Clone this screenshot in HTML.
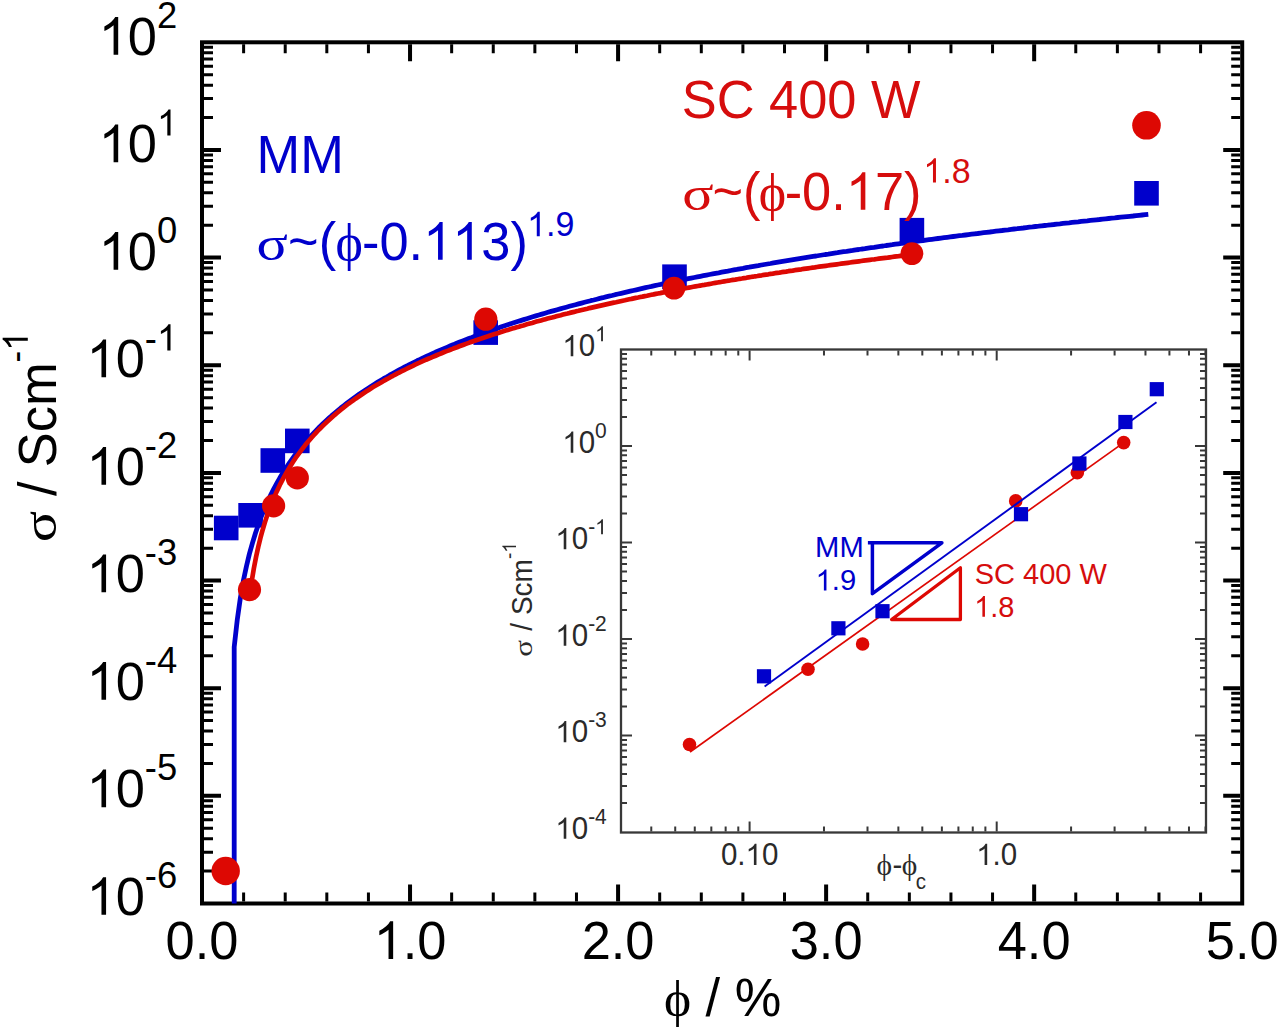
<!DOCTYPE html><html><head><meta charset="utf-8"><style>html,body{margin:0;padding:0;background:#fff;overflow:hidden}svg{display:block}</style></head><body><svg width="1280" height="1031" viewBox="0 0 1280 1031"><rect width="1280" height="1031" fill="#fff"/>
<path d="M204.0 871.09h9M1240.20 871.09h-9M204.0 852.14h9M1240.20 852.14h-9M204.0 838.69h9M1240.20 838.69h-9M204.0 828.26h9M1240.20 828.26h-9M204.0 819.73h9M1240.20 819.73h-9M204.0 812.53h9M1240.20 812.53h-9M204.0 806.28h9M1240.20 806.28h-9M204.0 800.78h9M1240.20 800.78h-9M204.0 763.44h9M1240.20 763.44h-9M204.0 744.49h9M1240.20 744.49h-9M204.0 731.04h9M1240.20 731.04h-9M204.0 720.61h9M1240.20 720.61h-9M204.0 712.08h9M1240.20 712.08h-9M204.0 704.88h9M1240.20 704.88h-9M204.0 698.63h9M1240.20 698.63h-9M204.0 693.13h9M1240.20 693.13h-9M204.0 655.79h9M1240.20 655.79h-9M204.0 636.84h9M1240.20 636.84h-9M204.0 623.39h9M1240.20 623.39h-9M204.0 612.96h9M1240.20 612.96h-9M204.0 604.43h9M1240.20 604.43h-9M204.0 597.23h9M1240.20 597.23h-9M204.0 590.98h9M1240.20 590.98h-9M204.0 585.48h9M1240.20 585.48h-9M204.0 548.14h9M1240.20 548.14h-9M204.0 529.19h9M1240.20 529.19h-9M204.0 515.74h9M1240.20 515.74h-9M204.0 505.31h9M1240.20 505.31h-9M204.0 496.78h9M1240.20 496.78h-9M204.0 489.58h9M1240.20 489.58h-9M204.0 483.33h9M1240.20 483.33h-9M204.0 477.83h9M1240.20 477.83h-9M204.0 440.49h9M1240.20 440.49h-9M204.0 421.54h9M1240.20 421.54h-9M204.0 408.09h9M1240.20 408.09h-9M204.0 397.66h9M1240.20 397.66h-9M204.0 389.13h9M1240.20 389.13h-9M204.0 381.93h9M1240.20 381.93h-9M204.0 375.68h9M1240.20 375.68h-9M204.0 370.18h9M1240.20 370.18h-9M204.0 332.84h9M1240.20 332.84h-9M204.0 313.89h9M1240.20 313.89h-9M204.0 300.44h9M1240.20 300.44h-9M204.0 290.01h9M1240.20 290.01h-9M204.0 281.48h9M1240.20 281.48h-9M204.0 274.28h9M1240.20 274.28h-9M204.0 268.03h9M1240.20 268.03h-9M204.0 262.53h9M1240.20 262.53h-9M204.0 225.19h9M1240.20 225.19h-9M204.0 206.24h9M1240.20 206.24h-9M204.0 192.79h9M1240.20 192.79h-9M204.0 182.36h9M1240.20 182.36h-9M204.0 173.83h9M1240.20 173.83h-9M204.0 166.63h9M1240.20 166.63h-9M204.0 160.38h9M1240.20 160.38h-9M204.0 154.88h9M1240.20 154.88h-9M204.0 117.54h9M1240.20 117.54h-9M204.0 98.59h9M1240.20 98.59h-9M204.0 85.14h9M1240.20 85.14h-9M204.0 74.71h9M1240.20 74.71h-9M204.0 66.18h9M1240.20 66.18h-9M204.0 58.98h9M1240.20 58.98h-9M204.0 52.73h9M1240.20 52.73h-9M204.0 47.23h9M1240.20 47.23h-9M243.61 901.50v-9M243.61 44.30v9M285.22 901.50v-9M285.22 44.30v9M326.82 901.50v-9M326.82 44.30v9M368.43 901.50v-9M368.43 44.30v9M451.65 901.50v-9M451.65 44.30v9M493.26 901.50v-9M493.26 44.30v9M534.86 901.50v-9M534.86 44.30v9M576.47 901.50v-9M576.47 44.30v9M659.69 901.50v-9M659.69 44.30v9M701.30 901.50v-9M701.30 44.30v9M742.90 901.50v-9M742.90 44.30v9M784.51 901.50v-9M784.51 44.30v9M867.73 901.50v-9M867.73 44.30v9M909.34 901.50v-9M909.34 44.30v9M950.94 901.50v-9M950.94 44.30v9M992.55 901.50v-9M992.55 44.30v9M1075.77 901.50v-9M1075.77 44.30v9M1117.38 901.50v-9M1117.38 44.30v9M1158.98 901.50v-9M1158.98 44.30v9M1200.59 901.50v-9M1200.59 44.30v9" stroke="#000" stroke-width="3" fill="none"/>
<path d="M204.0 795.85h17M1240.20 795.85h-17M204.0 688.20h17M1240.20 688.20h-17M204.0 580.55h17M1240.20 580.55h-17M204.0 472.90h17M1240.20 472.90h-17M204.0 365.25h17M1240.20 365.25h-17M204.0 257.60h17M1240.20 257.60h-17M204.0 149.95h17M1240.20 149.95h-17M410.04 901.50v-17M410.04 44.30v17M618.08 901.50v-17M618.08 44.30v17M826.12 901.50v-17M826.12 44.30v17M1034.16 901.50v-17M1034.16 44.30v17" stroke="#000" stroke-width="4" fill="none"/>
<rect x="202.0" y="42.3" width="1040.20" height="861.20" fill="none" stroke="#000" stroke-width="4"/>
<text transform="translate(144.83 887.9) scale(1 1.04)" font-family="'Liberation Sans', sans-serif" font-size="36.4" fill="#000" style="font-kerning:none" xml:space="preserve">-6</text>
<text transform="translate(86.55 914.8) scale(1 1.04)" font-family="'Liberation Sans', sans-serif" font-size="52.4" fill="#000" style="font-kerning:none" xml:space="preserve"> 0</text>
<path d="M763 0H583V1147Q518 1085 412.5 1023Q307 961 223 930V1104Q374 1175 487 1276Q600 1377 647 1472H763Z" fill="#000" transform="translate(86.55 914.8) scale(0.02559 -0.02559)"/>
<text transform="translate(144.83 780.42) scale(1 1.04)" font-family="'Liberation Sans', sans-serif" font-size="36.4" fill="#000" style="font-kerning:none" xml:space="preserve">-5</text>
<text transform="translate(86.55 807.29) scale(1 1.04)" font-family="'Liberation Sans', sans-serif" font-size="52.4" fill="#000" style="font-kerning:none" xml:space="preserve"> 0</text>
<path d="M763 0H583V1147Q518 1085 412.5 1023Q307 961 223 930V1104Q374 1175 487 1276Q600 1377 647 1472H763Z" fill="#000" transform="translate(86.55 807.29) scale(0.02559 -0.02559)"/>
<text transform="translate(144.83 672.95) scale(1 1.04)" font-family="'Liberation Sans', sans-serif" font-size="36.4" fill="#000" style="font-kerning:none" xml:space="preserve">-4</text>
<text transform="translate(86.55 699.77) scale(1 1.04)" font-family="'Liberation Sans', sans-serif" font-size="52.4" fill="#000" style="font-kerning:none" xml:space="preserve"> 0</text>
<path d="M763 0H583V1147Q518 1085 412.5 1023Q307 961 223 930V1104Q374 1175 487 1276Q600 1377 647 1472H763Z" fill="#000" transform="translate(86.55 699.77) scale(0.02559 -0.02559)"/>
<text transform="translate(144.83 565.47) scale(1 1.04)" font-family="'Liberation Sans', sans-serif" font-size="36.4" fill="#000" style="font-kerning:none" xml:space="preserve">-3</text>
<text transform="translate(86.55 592.26) scale(1 1.04)" font-family="'Liberation Sans', sans-serif" font-size="52.4" fill="#000" style="font-kerning:none" xml:space="preserve"> 0</text>
<path d="M763 0H583V1147Q518 1085 412.5 1023Q307 961 223 930V1104Q374 1175 487 1276Q600 1377 647 1472H763Z" fill="#000" transform="translate(86.55 592.26) scale(0.02559 -0.02559)"/>
<text transform="translate(144.83 458) scale(1 1.04)" font-family="'Liberation Sans', sans-serif" font-size="36.4" fill="#000" style="font-kerning:none" xml:space="preserve">-2</text>
<text transform="translate(86.55 484.75) scale(1 1.04)" font-family="'Liberation Sans', sans-serif" font-size="52.4" fill="#000" style="font-kerning:none" xml:space="preserve"> 0</text>
<path d="M763 0H583V1147Q518 1085 412.5 1023Q307 961 223 930V1104Q374 1175 487 1276Q600 1377 647 1472H763Z" fill="#000" transform="translate(86.55 484.75) scale(0.02559 -0.02559)"/>
<text transform="translate(144.83 350.53) scale(1 1.04)" font-family="'Liberation Sans', sans-serif" font-size="36.4" fill="#000" style="font-kerning:none" xml:space="preserve">- </text>
<path d="M763 0H583V1147Q518 1085 412.5 1023Q307 961 223 930V1104Q374 1175 487 1276Q600 1377 647 1472H763Z" fill="#000" transform="translate(156.96 350.53) scale(0.01777 -0.01777)"/>
<text transform="translate(86.55 377.24) scale(1 1.04)" font-family="'Liberation Sans', sans-serif" font-size="52.4" fill="#000" style="font-kerning:none" xml:space="preserve"> 0</text>
<path d="M763 0H583V1147Q518 1085 412.5 1023Q307 961 223 930V1104Q374 1175 487 1276Q600 1377 647 1472H763Z" fill="#000" transform="translate(86.55 377.24) scale(0.02559 -0.02559)"/>
<text transform="translate(156.96 243.05) scale(1 1.04)" font-family="'Liberation Sans', sans-serif" font-size="36.4" fill="#000" style="font-kerning:none" xml:space="preserve">0</text>
<text transform="translate(98.67 269.73) scale(1 1.04)" font-family="'Liberation Sans', sans-serif" font-size="52.4" fill="#000" style="font-kerning:none" xml:space="preserve"> 0</text>
<path d="M763 0H583V1147Q518 1085 412.5 1023Q307 961 223 930V1104Q374 1175 487 1276Q600 1377 647 1472H763Z" fill="#000" transform="translate(98.67 269.73) scale(0.02559 -0.02559)"/>
<path d="M763 0H583V1147Q518 1085 412.5 1023Q307 961 223 930V1104Q374 1175 487 1276Q600 1377 647 1472H763Z" fill="#000" transform="translate(156.96 135.57) scale(0.01777 -0.01777)"/>
<text transform="translate(98.67 162.21) scale(1 1.04)" font-family="'Liberation Sans', sans-serif" font-size="52.4" fill="#000" style="font-kerning:none" xml:space="preserve"> 0</text>
<path d="M763 0H583V1147Q518 1085 412.5 1023Q307 961 223 930V1104Q374 1175 487 1276Q600 1377 647 1472H763Z" fill="#000" transform="translate(98.67 162.21) scale(0.02559 -0.02559)"/>
<text transform="translate(156.96 28.1) scale(1 1.04)" font-family="'Liberation Sans', sans-serif" font-size="36.4" fill="#000" style="font-kerning:none" xml:space="preserve">2</text>
<text transform="translate(98.67 54.7) scale(1 1.04)" font-family="'Liberation Sans', sans-serif" font-size="52.4" fill="#000" style="font-kerning:none" xml:space="preserve"> 0</text>
<path d="M763 0H583V1147Q518 1085 412.5 1023Q307 961 223 930V1104Q374 1175 487 1276Q600 1377 647 1472H763Z" fill="#000" transform="translate(98.67 54.7) scale(0.02559 -0.02559)"/>
<text transform="translate(165.58 959) scale(1 1.04)" font-family="'Liberation Sans', sans-serif" font-size="52.4" fill="#000" style="font-kerning:none" xml:space="preserve">0.0</text>
<text transform="translate(373.62 959) scale(1 1.04)" font-family="'Liberation Sans', sans-serif" font-size="52.4" fill="#000" style="font-kerning:none" xml:space="preserve"> .0</text>
<path d="M763 0H583V1147Q518 1085 412.5 1023Q307 961 223 930V1104Q374 1175 487 1276Q600 1377 647 1472H763Z" fill="#000" transform="translate(373.62 959) scale(0.02559 -0.02559)"/>
<text transform="translate(581.66 959) scale(1 1.04)" font-family="'Liberation Sans', sans-serif" font-size="52.4" fill="#000" style="font-kerning:none" xml:space="preserve">2.0</text>
<text transform="translate(789.7 959) scale(1 1.04)" font-family="'Liberation Sans', sans-serif" font-size="52.4" fill="#000" style="font-kerning:none" xml:space="preserve">3.0</text>
<text transform="translate(997.74 959) scale(1 1.04)" font-family="'Liberation Sans', sans-serif" font-size="52.4" fill="#000" style="font-kerning:none" xml:space="preserve">4.0</text>
<text transform="translate(1205.78 959) scale(1 1.04)" font-family="'Liberation Sans', sans-serif" font-size="52.4" fill="#000" style="font-kerning:none" xml:space="preserve">5.0</text>
<text transform="translate(663.96 1016) scale(1 1)" font-family="'Liberation Serif', serif" font-size="51.5" fill="#000" style="font-kerning:none" xml:space="preserve">ϕ</text>
<text transform="translate(691.07 1016) scale(1 1.04)" font-family="'Liberation Sans', sans-serif" font-size="52.4" fill="#000" style="font-kerning:none" xml:space="preserve"> / %</text>
<g transform="translate(55.6 540.1) rotate(-90)"><text transform="translate(-2.22 0) scale(1.11 0.91)" font-family="'Liberation Serif', serif" font-size="52.4" fill="#000" style="font-kerning:none" xml:space="preserve">σ</text><text transform="translate(44.1 0) scale(1 1.04)" font-family="'Liberation Sans', sans-serif" font-size="52.4" fill="#000" style="font-kerning:none" xml:space="preserve">/</text><text transform="translate(72.92 0) scale(1 1.04)" font-family="'Liberation Sans', sans-serif" font-size="52.4" fill="#000" style="font-kerning:none" xml:space="preserve">Scm</text><text transform="translate(177.72 -27.8) scale(1 1.04)" font-family="'Liberation Sans', sans-serif" font-size="35" fill="#000" style="font-kerning:none" xml:space="preserve">- </text><path d="M763 0H583V1147Q518 1085 412.5 1023Q307 961 223 930V1104Q374 1175 487 1276Q600 1377 647 1472H763Z" fill="#000" transform="translate(189.38 -27.8) scale(0.01709 -0.01709)"/></g>
<polyline points="234.2,903.5 234.2,646.9 237.3,619.5 240.3,598.3 243.3,581.1 246.4,566.5 249.4,553.9 252.5,542.9 255.5,533.0 258.6,524.0 261.6,515.8 264.7,508.3 267.7,501.4 270.8,494.9 273.8,488.9 276.9,483.2 279.9,477.8 283.0,472.8 286.0,468.0 289.1,463.4 292.1,459.1 295.1,454.9 298.2,450.9 301.2,447.1 304.3,443.5 307.3,439.9 310.4,436.5 313.4,433.3 316.5,430.1 319.5,427.0 322.6,424.1 325.6,421.2 328.7,418.4 331.7,415.7 334.8,413.1 337.8,410.5 340.8,408.0 343.9,405.6 346.9,403.2 350.0,400.9 353.0,398.7 356.1,396.5 359.1,394.3 362.2,392.2 365.2,390.2 368.3,388.2 371.3,386.2 374.4,384.3 377.4,382.4 380.5,380.5 383.5,378.7 386.6,377.0 389.6,375.2 392.6,373.5 395.7,371.8 398.7,370.2 401.8,368.5 404.8,366.9 407.9,365.4 410.9,363.8 414.0,362.3 417.0,360.8 420.1,359.4 423.1,357.9 426.2,356.5 429.2,355.1 432.3,353.7 435.3,352.3 438.3,351.0 441.4,349.7 444.4,348.4 447.5,347.1 450.5,345.8 453.6,344.6 456.6,343.3 459.7,342.1 462.7,340.9 465.8,339.7 468.8,338.5 471.9,337.4 474.9,336.2 478.0,335.1 481.0,334.0 484.1,332.9 487.1,331.8 490.1,330.7 493.2,329.7 496.2,328.6 499.3,327.6 502.3,326.5 505.4,325.5 508.4,324.5 511.5,323.5 514.5,322.5 517.6,321.5 520.6,320.6 523.7,319.6 526.7,318.7 529.8,317.7 532.8,316.8 535.8,315.9 538.9,315.0 541.9,314.1 545.0,313.2 548.0,312.3 551.1,311.4 554.1,310.6 557.2,309.7 560.2,308.9 563.3,308.0 566.3,307.2 569.4,306.3 572.4,305.5 575.5,304.7 578.5,303.9 581.6,303.1 584.6,302.3 587.6,301.5 590.7,300.7 593.7,300.0 596.8,299.2 599.8,298.4 602.9,297.7 605.9,296.9 609.0,296.2 612.0,295.5 615.1,294.7 618.1,294.0 621.2,293.3 624.2,292.6 627.3,291.9 630.3,291.2 633.3,290.5 636.4,289.8 639.4,289.1 642.5,288.4 645.5,287.7 648.6,287.0 651.6,286.4 654.7,285.7 657.7,285.0 660.8,284.4 663.8,283.7 666.9,283.1 669.9,282.5 673.0,281.8 676.0,281.2 679.1,280.6 682.1,279.9 685.1,279.3 688.2,278.7 691.2,278.1 694.3,277.5 697.3,276.9 700.4,276.3 703.4,275.7 706.5,275.1 709.5,274.5 712.6,273.9 715.6,273.3 718.7,272.8 721.7,272.2 724.8,271.6 727.8,271.1 730.8,270.5 733.9,269.9 736.9,269.4 740.0,268.8 743.0,268.3 746.1,267.7 749.1,267.2 752.2,266.6 755.2,266.1 758.3,265.6 761.3,265.0 764.4,264.5 767.4,264.0 770.5,263.5 773.5,262.9 776.6,262.4 779.6,261.9 782.6,261.4 785.7,260.9 788.7,260.4 791.8,259.9 794.8,259.4 797.9,258.9 800.9,258.4 804.0,257.9 807.0,257.4 810.1,256.9 813.1,256.4 816.2,256.0 819.2,255.5 822.3,255.0 825.3,254.5 828.3,254.1 831.4,253.6 834.4,253.1 837.5,252.7 840.5,252.2 843.6,251.7 846.6,251.3 849.7,250.8 852.7,250.4 855.8,249.9 858.8,249.5 861.9,249.0 864.9,248.6 868.0,248.1 871.0,247.7 874.1,247.3 877.1,246.8 880.1,246.4 883.2,246.0 886.2,245.5 889.3,245.1 892.3,244.7 895.4,244.2 898.4,243.8 901.5,243.4 904.5,243.0 907.6,242.6 910.6,242.1 913.7,241.7 916.7,241.3 919.8,240.9 922.8,240.5 925.8,240.1 928.9,239.7 931.9,239.3 935.0,238.9 938.0,238.5 941.1,238.1 944.1,237.7 947.2,237.3 950.2,236.9 953.3,236.5 956.3,236.1 959.4,235.7 962.4,235.4 965.5,235.0 968.5,234.6 971.6,234.2 974.6,233.8 977.6,233.5 980.7,233.1 983.7,232.7 986.8,232.3 989.8,232.0 992.9,231.6 995.9,231.2 999.0,230.8 1002.0,230.5 1005.1,230.1 1008.1,229.8 1011.2,229.4 1014.2,229.0 1017.3,228.7 1020.3,228.3 1023.3,228.0 1026.4,227.6 1029.4,227.2 1032.5,226.9 1035.5,226.5 1038.6,226.2 1041.6,225.8 1044.7,225.5 1047.7,225.2 1050.8,224.8 1053.8,224.5 1056.9,224.1 1059.9,223.8 1063.0,223.4 1066.0,223.1 1069.1,222.8 1072.1,222.4 1075.1,222.1 1078.2,221.8 1081.2,221.4 1084.3,221.1 1087.3,220.8 1090.4,220.4 1093.4,220.1 1096.5,219.8 1099.5,219.5 1102.6,219.1 1105.6,218.8 1108.7,218.5 1111.7,218.2 1114.8,217.9 1117.8,217.5 1120.8,217.2 1123.9,216.9 1126.9,216.6 1130.0,216.3 1133.0,216.0 1136.1,215.6 1139.1,215.3 1142.2,215.0 1145.2,214.7 1148.3,214.4" fill="none" stroke="#0000cc" stroke-width="4.8" stroke-linejoin="round"/>
<rect x="213.9" y="515.7" width="24.6" height="24.6" fill="#0000cc"/>
<rect x="238.3" y="503.0" width="24.6" height="24.6" fill="#0000cc"/>
<rect x="260.5" y="448.2" width="24.6" height="24.6" fill="#0000cc"/>
<rect x="285.0" y="428.6" width="24.6" height="24.6" fill="#0000cc"/>
<rect x="473.4" y="320.3" width="24.6" height="24.6" fill="#0000cc"/>
<rect x="662.2" y="264.4" width="24.6" height="24.6" fill="#0000cc"/>
<rect x="899.6" y="217.9" width="24.6" height="24.6" fill="#0000cc"/>
<rect x="1134.2" y="181.0" width="24.6" height="24.6" fill="#0000cc"/>
<polyline points="249.5,597.2 251.7,581.3 253.9,568.1 256.1,556.7 258.3,546.7 260.5,537.7 262.7,529.7 264.9,522.4 267.1,515.6 269.3,509.4 271.6,503.6 273.8,498.2 276.0,493.1 278.2,488.4 280.4,483.8 282.6,479.6 284.8,475.5 287.0,471.6 289.2,467.9 291.4,464.4 293.6,461.0 295.8,457.7 298.1,454.6 300.3,451.6 302.5,448.7 304.7,445.8 306.9,443.1 309.1,440.5 311.3,437.9 313.5,435.5 315.7,433.1 317.9,430.7 320.1,428.5 322.3,426.3 324.6,424.1 326.8,422.0 329.0,420.0 331.2,418.0 333.4,416.0 335.6,414.1 337.8,412.3 340.0,410.4 342.2,408.7 344.4,406.9 346.6,405.2 348.8,403.5 351.1,401.9 353.3,400.3 355.5,398.7 357.7,397.2 359.9,395.7 362.1,394.2 364.3,392.7 366.5,391.3 368.7,389.9 370.9,388.5 373.1,387.1 375.3,385.8 377.6,384.5 379.8,383.2 382.0,381.9 384.2,380.6 386.4,379.4 388.6,378.2 390.8,376.9 393.0,375.8 395.2,374.6 397.4,373.4 399.6,372.3 401.8,371.2 404.1,370.1 406.3,369.0 408.5,367.9 410.7,366.8 412.9,365.8 415.1,364.7 417.3,363.7 419.5,362.7 421.7,361.7 423.9,360.7 426.1,359.7 428.3,358.8 430.6,357.8 432.8,356.9 435.0,356.0 437.2,355.0 439.4,354.1 441.6,353.2 443.8,352.3 446.0,351.4 448.2,350.6 450.4,349.7 452.6,348.9 454.8,348.0 457.1,347.2 459.3,346.3 461.5,345.5 463.7,344.7 465.9,343.9 468.1,343.1 470.3,342.3 472.5,341.5 474.7,340.8 476.9,340.0 479.1,339.2 481.3,338.5 483.6,337.7 485.8,337.0 488.0,336.3 490.2,335.5 492.4,334.8 494.6,334.1 496.8,333.4 499.0,332.7 501.2,332.0 503.4,331.3 505.6,330.6 507.8,330.0 510.0,329.3 512.3,328.6 514.5,328.0 516.7,327.3 518.9,326.7 521.1,326.0 523.3,325.4 525.5,324.7 527.7,324.1 529.9,323.5 532.1,322.9 534.3,322.2 536.5,321.6 538.8,321.0 541.0,320.4 543.2,319.8 545.4,319.2 547.6,318.6 549.8,318.0 552.0,317.5 554.2,316.9 556.4,316.3 558.6,315.7 560.8,315.2 563.0,314.6 565.3,314.0 567.5,313.5 569.7,312.9 571.9,312.4 574.1,311.9 576.3,311.3 578.5,310.8 580.7,310.2 582.9,309.7 585.1,309.2 587.3,308.7 589.5,308.1 591.8,307.6 594.0,307.1 596.2,306.6 598.4,306.1 600.6,305.6 602.8,305.1 605.0,304.6 607.2,304.1 609.4,303.6 611.6,303.1 613.8,302.6 616.0,302.2 618.3,301.7 620.5,301.2 622.7,300.7 624.9,300.3 627.1,299.8 629.3,299.3 631.5,298.9 633.7,298.4 635.9,297.9 638.1,297.5 640.3,297.0 642.5,296.6 644.8,296.1 647.0,295.7 649.2,295.2 651.4,294.8 653.6,294.4 655.8,293.9 658.0,293.5 660.2,293.1 662.4,292.6 664.6,292.2 666.8,291.8 669.0,291.3 671.3,290.9 673.5,290.5 675.7,290.1 677.9,289.7 680.1,289.3 682.3,288.9 684.5,288.4 686.7,288.0 688.9,287.6 691.1,287.2 693.3,286.8 695.5,286.4 697.8,286.0 700.0,285.6 702.2,285.2 704.4,284.9 706.6,284.5 708.8,284.1 711.0,283.7 713.2,283.3 715.4,282.9 717.6,282.5 719.8,282.2 722.0,281.8 724.3,281.4 726.5,281.0 728.7,280.7 730.9,280.3 733.1,279.9 735.3,279.6 737.5,279.2 739.7,278.8 741.9,278.5 744.1,278.1 746.3,277.8 748.5,277.4 750.8,277.0 753.0,276.7 755.2,276.3 757.4,276.0 759.6,275.6 761.8,275.3 764.0,274.9 766.2,274.6 768.4,274.3 770.6,273.9 772.8,273.6 775.0,273.2 777.3,272.9 779.5,272.6 781.7,272.2 783.9,271.9 786.1,271.6 788.3,271.2 790.5,270.9 792.7,270.6 794.9,270.2 797.1,269.9 799.3,269.6 801.5,269.3 803.8,268.9 806.0,268.6 808.2,268.3 810.4,268.0 812.6,267.7 814.8,267.4 817.0,267.0 819.2,266.7 821.4,266.4 823.6,266.1 825.8,265.8 828.0,265.5 830.3,265.2 832.5,264.9 834.7,264.6 836.9,264.3 839.1,264.0 841.3,263.7 843.5,263.4 845.7,263.1 847.9,262.8 850.1,262.5 852.3,262.2 854.5,261.9 856.8,261.6 859.0,261.3 861.2,261.0 863.4,260.7 865.6,260.4 867.8,260.1 870.0,259.8 872.2,259.5 874.4,259.3 876.6,259.0 878.8,258.7 881.0,258.4 883.3,258.1 885.5,257.8 887.7,257.6 889.9,257.3 892.1,257.0 894.3,256.7 896.5,256.4 898.7,256.2 900.9,255.9 903.1,255.6 905.3,255.4 907.5,255.1 909.8,254.8 912.0,254.5" fill="none" stroke="#dd0803" stroke-width="4.7" stroke-linejoin="round"/>
<circle cx="225.7" cy="871" r="14.2" fill="#dd0803"/>
<circle cx="249.5" cy="589.6" r="11.6" fill="#dd0803"/>
<circle cx="273.6" cy="505.9" r="11.6" fill="#dd0803"/>
<circle cx="297.3" cy="477.9" r="11.6" fill="#dd0803"/>
<circle cx="485.8" cy="319.2" r="11.6" fill="#dd0803"/>
<circle cx="674" cy="288.1" r="11.4" fill="#dd0803"/>
<circle cx="911.9" cy="253.6" r="11.4" fill="#dd0803"/>
<circle cx="1146.5" cy="125.3" r="14.3" fill="#dd0803"/>
<text transform="translate(256.6 172.7) scale(1 1.04)" font-family="'Liberation Sans', sans-serif" font-size="52.4" fill="#0000cc" style="font-kerning:none" xml:space="preserve">MM</text>
<text transform="translate(256.58 259.7) scale(1.11 0.91)" font-family="'Liberation Serif', serif" font-size="52.4" fill="#0000cc" style="font-kerning:none" xml:space="preserve">σ</text>
<text transform="translate(288.05 259.7) scale(1 1.04)" font-family="'Liberation Sans', sans-serif" font-size="52.4" fill="#0000cc" style="font-kerning:none" xml:space="preserve">~(</text>
<text transform="translate(335.55 259.7) scale(1 1)" font-family="'Liberation Serif', serif" font-size="52" fill="#0000cc" style="font-kerning:none" xml:space="preserve">ϕ</text>
<text transform="translate(361.97 259.7) scale(1 1.04)" font-family="'Liberation Sans', sans-serif" font-size="52.4" fill="#0000cc" style="font-kerning:none" xml:space="preserve">-0.  3)</text>
<path d="M763 0H583V1147Q518 1085 412.5 1023Q307 961 223 930V1104Q374 1175 487 1276Q600 1377 647 1472H763Z" fill="#0000cc" transform="translate(423.12 259.7) scale(0.02559 -0.02559)"/>
<path d="M763 0H583V1147Q518 1085 412.5 1023Q307 961 223 930V1104Q374 1175 487 1276Q600 1377 647 1472H763Z" fill="#0000cc" transform="translate(452.26 259.7) scale(0.02559 -0.02559)"/>
<text transform="translate(527.1 236.2) scale(1 1.04)" font-family="'Liberation Sans', sans-serif" font-size="34" fill="#0000cc" style="font-kerning:none" xml:space="preserve"> .9</text>
<path d="M763 0H583V1147Q518 1085 412.5 1023Q307 961 223 930V1104Q374 1175 487 1276Q600 1377 647 1472H763Z" fill="#0000cc" transform="translate(527.1 236.2) scale(0.01660 -0.01660)"/>
<text transform="translate(681.72 117.9) scale(1 1.04)" font-family="'Liberation Sans', sans-serif" font-size="52.4" fill="#d60d0d" style="font-kerning:none" xml:space="preserve">SC 400 W</text>
<text transform="translate(682.18 209.8) scale(1.11 0.91)" font-family="'Liberation Serif', serif" font-size="52.4" fill="#d60d0d" style="font-kerning:none" xml:space="preserve">σ</text>
<text transform="translate(712.45 209.8) scale(1 1.04)" font-family="'Liberation Sans', sans-serif" font-size="52.4" fill="#d60d0d" style="font-kerning:none" xml:space="preserve">~(</text>
<text transform="translate(758.75 209.8) scale(1 1)" font-family="'Liberation Serif', serif" font-size="52" fill="#d60d0d" style="font-kerning:none" xml:space="preserve">ϕ</text>
<text transform="translate(784.67 209.8) scale(1 1.04)" font-family="'Liberation Sans', sans-serif" font-size="52.4" fill="#d60d0d" style="font-kerning:none" xml:space="preserve">-0. 7)</text>
<path d="M763 0H583V1147Q518 1085 412.5 1023Q307 961 223 930V1104Q374 1175 487 1276Q600 1377 647 1472H763Z" fill="#d60d0d" transform="translate(845.82 209.8) scale(0.02559 -0.02559)"/>
<text transform="translate(923.3 182.6) scale(1 1.04)" font-family="'Liberation Sans', sans-serif" font-size="34" fill="#d60d0d" style="font-kerning:none" xml:space="preserve"> .8</text>
<path d="M763 0H583V1147Q518 1085 412.5 1023Q307 961 223 930V1104Q374 1175 487 1276Q600 1377 647 1472H763Z" fill="#d60d0d" transform="translate(923.3 182.6) scale(0.01660 -0.01660)"/>
<rect x="621.0" y="349.5" width="585.0" height="483.0" fill="#fff"/>
<path d="M622.0 802.95h5M1205.0 802.95h-5M622.0 785.96h5M1205.0 785.96h-5M622.0 773.90h5M1205.0 773.90h-5M622.0 764.55h5M1205.0 764.55h-5M622.0 756.91h5M1205.0 756.91h-5M622.0 750.45h5M1205.0 750.45h-5M622.0 744.85h5M1205.0 744.85h-5M622.0 739.92h5M1205.0 739.92h-5M622.0 706.45h5M1205.0 706.45h-5M622.0 689.46h5M1205.0 689.46h-5M622.0 677.40h5M1205.0 677.40h-5M622.0 668.05h5M1205.0 668.05h-5M622.0 660.41h5M1205.0 660.41h-5M622.0 653.95h5M1205.0 653.95h-5M622.0 648.35h5M1205.0 648.35h-5M622.0 643.42h5M1205.0 643.42h-5M622.0 609.95h5M1205.0 609.95h-5M622.0 592.96h5M1205.0 592.96h-5M622.0 580.90h5M1205.0 580.90h-5M622.0 571.55h5M1205.0 571.55h-5M622.0 563.91h5M1205.0 563.91h-5M622.0 557.45h5M1205.0 557.45h-5M622.0 551.85h5M1205.0 551.85h-5M622.0 546.92h5M1205.0 546.92h-5M622.0 513.45h5M1205.0 513.45h-5M622.0 496.46h5M1205.0 496.46h-5M622.0 484.40h5M1205.0 484.40h-5M622.0 475.05h5M1205.0 475.05h-5M622.0 467.41h5M1205.0 467.41h-5M622.0 460.95h5M1205.0 460.95h-5M622.0 455.35h5M1205.0 455.35h-5M622.0 450.42h5M1205.0 450.42h-5M622.0 416.95h5M1205.0 416.95h-5M622.0 399.96h5M1205.0 399.96h-5M622.0 387.90h5M1205.0 387.90h-5M622.0 378.55h5M1205.0 378.55h-5M622.0 370.91h5M1205.0 370.91h-5M622.0 364.45h5M1205.0 364.45h-5M622.0 358.85h5M1205.0 358.85h-5M622.0 353.92h5M1205.0 353.92h-5M622.0 735.50h10M1205.0 735.50h-10M622.0 639.00h10M1205.0 639.00h-10M622.0 542.50h10M1205.0 542.50h-10M622.0 446.00h10M1205.0 446.00h-10M651.27 831.5v-5M651.27 350.5v5M675.22 831.5v-5M675.22 350.5v5M694.78 831.5v-5M694.78 350.5v5M711.32 831.5v-5M711.32 350.5v5M725.65 831.5v-5M725.65 350.5v5M738.29 831.5v-5M738.29 350.5v5M749.60 831.5v-10M749.60 350.5v10M823.98 831.5v-5M823.98 350.5v5M867.50 831.5v-5M867.50 350.5v5M898.37 831.5v-5M898.37 350.5v5M922.32 831.5v-5M922.32 350.5v5M941.88 831.5v-5M941.88 350.5v5M958.42 831.5v-5M958.42 350.5v5M972.75 831.5v-5M972.75 350.5v5M985.39 831.5v-5M985.39 350.5v5M996.70 831.5v-10M996.70 350.5v10M1071.08 831.5v-5M1071.08 350.5v5M1114.60 831.5v-5M1114.60 350.5v5M1145.47 831.5v-5M1145.47 350.5v5M1169.42 831.5v-5M1169.42 350.5v5M1188.98 831.5v-5M1188.98 350.5v5M1205.52 831.5v-5M1205.52 350.5v5" stroke="#383838" stroke-width="2" fill="none"/>
<rect x="621.0" y="349.5" width="585.0" height="483.0" fill="none" stroke="#383838" stroke-width="2.3"/>
<text transform="translate(588.13 823.8) scale(1 1.04)" font-family="'Liberation Sans', sans-serif" font-size="21" fill="#2a2a2a" style="font-kerning:none" xml:space="preserve">-4</text>
<text transform="translate(555.31 838.8) scale(1 1.04)" font-family="'Liberation Sans', sans-serif" font-size="29.5" fill="#2a2a2a" style="font-kerning:none" xml:space="preserve"> 0</text>
<path d="M763 0H583V1147Q518 1085 412.5 1023Q307 961 223 930V1104Q374 1175 487 1276Q600 1377 647 1472H763Z" fill="#2a2a2a" transform="translate(555.31 838.8) scale(0.01440 -0.01440)"/>
<text transform="translate(588.13 727.3) scale(1 1.04)" font-family="'Liberation Sans', sans-serif" font-size="21" fill="#2a2a2a" style="font-kerning:none" xml:space="preserve">-3</text>
<text transform="translate(555.31 742.3) scale(1 1.04)" font-family="'Liberation Sans', sans-serif" font-size="29.5" fill="#2a2a2a" style="font-kerning:none" xml:space="preserve"> 0</text>
<path d="M763 0H583V1147Q518 1085 412.5 1023Q307 961 223 930V1104Q374 1175 487 1276Q600 1377 647 1472H763Z" fill="#2a2a2a" transform="translate(555.31 742.3) scale(0.01440 -0.01440)"/>
<text transform="translate(588.13 630.8) scale(1 1.04)" font-family="'Liberation Sans', sans-serif" font-size="21" fill="#2a2a2a" style="font-kerning:none" xml:space="preserve">-2</text>
<text transform="translate(555.31 645.8) scale(1 1.04)" font-family="'Liberation Sans', sans-serif" font-size="29.5" fill="#2a2a2a" style="font-kerning:none" xml:space="preserve"> 0</text>
<path d="M763 0H583V1147Q518 1085 412.5 1023Q307 961 223 930V1104Q374 1175 487 1276Q600 1377 647 1472H763Z" fill="#2a2a2a" transform="translate(555.31 645.8) scale(0.01440 -0.01440)"/>
<text transform="translate(588.13 534.3) scale(1 1.04)" font-family="'Liberation Sans', sans-serif" font-size="21" fill="#2a2a2a" style="font-kerning:none" xml:space="preserve">- </text>
<path d="M763 0H583V1147Q518 1085 412.5 1023Q307 961 223 930V1104Q374 1175 487 1276Q600 1377 647 1472H763Z" fill="#2a2a2a" transform="translate(595.12 534.3) scale(0.01025 -0.01025)"/>
<text transform="translate(555.31 549.3) scale(1 1.04)" font-family="'Liberation Sans', sans-serif" font-size="29.5" fill="#2a2a2a" style="font-kerning:none" xml:space="preserve"> 0</text>
<path d="M763 0H583V1147Q518 1085 412.5 1023Q307 961 223 930V1104Q374 1175 487 1276Q600 1377 647 1472H763Z" fill="#2a2a2a" transform="translate(555.31 549.3) scale(0.01440 -0.01440)"/>
<text transform="translate(595.12 437.8) scale(1 1.04)" font-family="'Liberation Sans', sans-serif" font-size="21" fill="#2a2a2a" style="font-kerning:none" xml:space="preserve">0</text>
<text transform="translate(562.31 452.8) scale(1 1.04)" font-family="'Liberation Sans', sans-serif" font-size="29.5" fill="#2a2a2a" style="font-kerning:none" xml:space="preserve"> 0</text>
<path d="M763 0H583V1147Q518 1085 412.5 1023Q307 961 223 930V1104Q374 1175 487 1276Q600 1377 647 1472H763Z" fill="#2a2a2a" transform="translate(562.31 452.8) scale(0.01440 -0.01440)"/>
<path d="M763 0H583V1147Q518 1085 412.5 1023Q307 961 223 930V1104Q374 1175 487 1276Q600 1377 647 1472H763Z" fill="#2a2a2a" transform="translate(595.12 341.3) scale(0.01025 -0.01025)"/>
<text transform="translate(562.31 356.3) scale(1 1.04)" font-family="'Liberation Sans', sans-serif" font-size="29.5" fill="#2a2a2a" style="font-kerning:none" xml:space="preserve"> 0</text>
<path d="M763 0H583V1147Q518 1085 412.5 1023Q307 961 223 930V1104Q374 1175 487 1276Q600 1377 647 1472H763Z" fill="#2a2a2a" transform="translate(562.31 356.3) scale(0.01440 -0.01440)"/>
<text transform="translate(720.89 865) scale(1 1.04)" font-family="'Liberation Sans', sans-serif" font-size="29.5" fill="#2a2a2a" style="font-kerning:none" xml:space="preserve">0. 0</text>
<path d="M763 0H583V1147Q518 1085 412.5 1023Q307 961 223 930V1104Q374 1175 487 1276Q600 1377 647 1472H763Z" fill="#2a2a2a" transform="translate(745.49 865) scale(0.01440 -0.01440)"/>
<text transform="translate(976.2 865) scale(1 1.04)" font-family="'Liberation Sans', sans-serif" font-size="29.5" fill="#2a2a2a" style="font-kerning:none" xml:space="preserve"> .0</text>
<path d="M763 0H583V1147Q518 1085 412.5 1023Q307 961 223 930V1104Q374 1175 487 1276Q600 1377 647 1472H763Z" fill="#2a2a2a" transform="translate(976.2 865) scale(0.01440 -0.01440)"/>
<text transform="translate(876.61 874.7) scale(1 1)" font-family="'Liberation Serif', serif" font-size="29.5" fill="#2a2a2a" style="font-kerning:none" xml:space="preserve">ϕ</text>
<text transform="translate(892.59 874.7) scale(1 1.04)" font-family="'Liberation Sans', sans-serif" font-size="29.5" fill="#2a2a2a" style="font-kerning:none" xml:space="preserve">-</text>
<text transform="translate(901.81 874.7) scale(1 1)" font-family="'Liberation Serif', serif" font-size="29.5" fill="#2a2a2a" style="font-kerning:none" xml:space="preserve">ϕ</text>
<text transform="translate(915.83 889) scale(1 1.04)" font-family="'Liberation Sans', sans-serif" font-size="20.5" fill="#2a2a2a" style="font-kerning:none" xml:space="preserve">c</text>
<g transform="translate(531.5 655.6) rotate(-90)"><text transform="translate(-1.18 0) scale(1.11 0.91)" font-family="'Liberation Serif', serif" font-size="28" fill="#2a2a2a" style="font-kerning:none" xml:space="preserve">σ</text><text transform="translate(24.8 0) scale(1 1.04)" font-family="'Liberation Sans', sans-serif" font-size="28" fill="#2a2a2a" style="font-kerning:none" xml:space="preserve">/</text><text transform="translate(40.53 0) scale(1 1.04)" font-family="'Liberation Sans', sans-serif" font-size="28" fill="#2a2a2a" style="font-kerning:none" xml:space="preserve">Scm</text><text transform="translate(96.53 -15.5) scale(1 1.04)" font-family="'Liberation Sans', sans-serif" font-size="19" fill="#2a2a2a" style="font-kerning:none" xml:space="preserve">- </text><path d="M763 0H583V1147Q518 1085 412.5 1023Q307 961 223 930V1104Q374 1175 487 1276Q600 1377 647 1472H763Z" fill="#2a2a2a" transform="translate(102.86 -15.5) scale(0.00928 -0.00928)"/></g>
<line x1="690" y1="752" x2="1123.7" y2="442.6" stroke="#dd0803" stroke-width="1.7"/>
<circle cx="689.5" cy="744.5" r="6.8" fill="#dd0803"/>
<circle cx="808" cy="669.2" r="6.8" fill="#dd0803"/>
<circle cx="862.6" cy="644" r="6.8" fill="#dd0803"/>
<circle cx="1015.7" cy="500.9" r="6.8" fill="#dd0803"/>
<circle cx="1077.3" cy="472.7" r="6.8" fill="#dd0803"/>
<circle cx="1123.7" cy="442.6" r="6.8" fill="#dd0803"/>
<line x1="764.6" y1="686.6" x2="1156.5" y2="402.3" stroke="#0000cc" stroke-width="1.9"/>
<rect x="756.9" y="669.2" width="14.2" height="14.2" fill="#0000cc"/>
<rect x="831.3" y="621.2" width="14.2" height="14.2" fill="#0000cc"/>
<rect x="875.4" y="604.1" width="14.2" height="14.2" fill="#0000cc"/>
<rect x="1013.9" y="507.1" width="14.2" height="14.2" fill="#0000cc"/>
<rect x="1072.3" y="456.4" width="14.2" height="14.2" fill="#0000cc"/>
<rect x="1118.3" y="414.9" width="14.2" height="14.2" fill="#0000cc"/>
<rect x="1149.7" y="382.1" width="14.2" height="14.2" fill="#0000cc"/>
<path d="M867.9 542.8H941.9L872.4 593.7V542.8" fill="none" stroke="#0000cc" stroke-width="3.5" stroke-linejoin="round"/>
<path d="M891.6 619.5H960.4V567.7Z" fill="none" stroke="#dd0803" stroke-width="3.3" stroke-linejoin="round"/>
<text transform="translate(815.1 556.8) scale(1 1.04)" font-family="'Liberation Sans', sans-serif" font-size="29.2" fill="#0000cc" style="font-kerning:none" xml:space="preserve">MM</text>
<text transform="translate(815.57 590.4) scale(1 1.04)" font-family="'Liberation Sans', sans-serif" font-size="29.2" fill="#0000cc" style="font-kerning:none" xml:space="preserve"> .9</text>
<path d="M763 0H583V1147Q518 1085 412.5 1023Q307 961 223 930V1104Q374 1175 487 1276Q600 1377 647 1472H763Z" fill="#0000cc" transform="translate(815.57 590.4) scale(0.01426 -0.01426)"/>
<text transform="translate(974.78 583.8) scale(1 1.04)" font-family="'Liberation Sans', sans-serif" font-size="29" fill="#d60d0d" style="font-kerning:none" xml:space="preserve">SC 400 W</text>
<text transform="translate(974.14 616.8) scale(1 1.04)" font-family="'Liberation Sans', sans-serif" font-size="29" fill="#d60d0d" style="font-kerning:none" xml:space="preserve"> .8</text>
<path d="M763 0H583V1147Q518 1085 412.5 1023Q307 961 223 930V1104Q374 1175 487 1276Q600 1377 647 1472H763Z" fill="#d60d0d" transform="translate(974.14 616.8) scale(0.01416 -0.01416)"/></svg></body></html>
